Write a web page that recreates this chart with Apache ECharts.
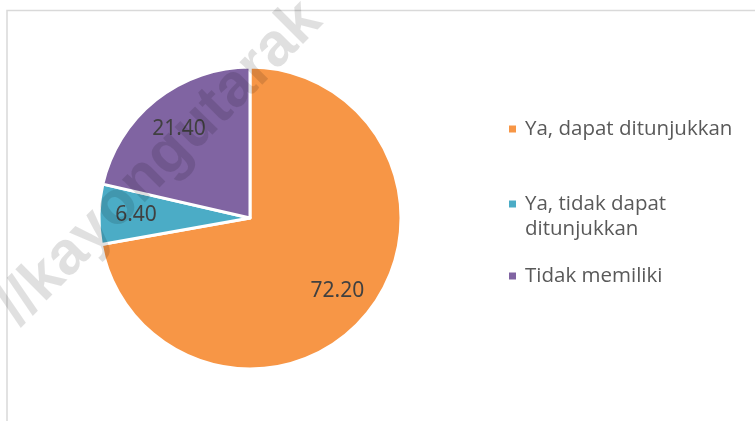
<!DOCTYPE html>
<html>
<head>
<meta charset="utf-8">
<script src="https://cdn.jsdelivr.net/npm/echarts@6/dist/echarts.min.js"></script>
<style>html,body{margin:0;padding:0;background:#fff}#c{width:755px;height:421px}</style>
</head>
<body>
<div id="c"></div>
<script>
const categories = ['Ya, dapat ditunjukkan', 'Ya, tidak dapat ditunjukkan', 'Tidak memiliki'];
const values = [72.20, 6.40, 21.40];
const legendLabels = ['Ya, dapat ditunjukkan', 'Ya, tidak dapat\nditunjukkan', 'Tidak memiliki'];
const colors = ['#F79646', '#4BACC6', '#8064A2'];
const watermark = '//kayongutarak';

const data = categories.map((n, i) => ({ name: n, value: values[i], itemStyle: { color: colors[i] } }));
const legendTops = [116.5, 166.5, 263.5];

const chart = echarts.init(document.getElementById('c'), null, { renderer: 'canvas' });
chart.setOption({
  animation: false,
  color: colors,
  legend: categories.map((n, i) => ({
    data: [n], left: 507, top: legendTops[i], padding: 0, orient: 'vertical',
    icon: 'rect', itemWidth: 9, itemHeight: 9, selectedMode: false,
    formatter: (name) => {
      const lbl = legendLabels[categories.indexOf(name)];
      return lbl.indexOf('\n') >= 0 ? '\n' + lbl : lbl;
    },
    textStyle: { color: '#595959', fontFamily: 'Open Sans', fontSize: 20.5, lineHeight: 25, padding: [0, 0, 0, 3] }
  })),
  series: [
    {
      type: 'pie', center: [250, 218], radius: 151, startAngle: 90, clockwise: true,
      data: data, label: { show: false }, labelLine: { show: false },
      itemStyle: { borderColor: '#ffffff', borderWidth: 3 }, emphasis: { disabled: true }, silent: true
    },
    {
      type: 'pie', center: [250, 218], radius: [72, 150], startAngle: 90, clockwise: true,
      data: categories.map((n, i) => ({ name: n, value: values[i] })),
      itemStyle: { color: 'rgba(0,0,0,0)' },
      label: {
        show: true, position: 'inside', color: '#404040', fontFamily: 'Noto Sans', fontSize: 21,
        formatter: (p) => p.value.toFixed(2)
      },
      labelLine: { show: false }, emphasis: { disabled: true }, silent: true
    }
  ],
  graphic: [
    { type: 'rect', shape: { x: 7, y: 10.5, width: 900, height: 600 }, style: { fill: 'none', stroke: '#d9d9d9', lineWidth: 1.5 }, z: 0, silent: true },
    { type: 'text', x: -14, y: 294, rotation: 45 * Math.PI / 180, z: 100, silent: true,
      style: { text: watermark, fill: 'rgba(0,0,0,0.12)', font: 'bold 61px "Liberation Sans"', textAlign: 'left', textVerticalAlign: 'alphabetic' } }
  ]
});
</script>
</body>
</html>
